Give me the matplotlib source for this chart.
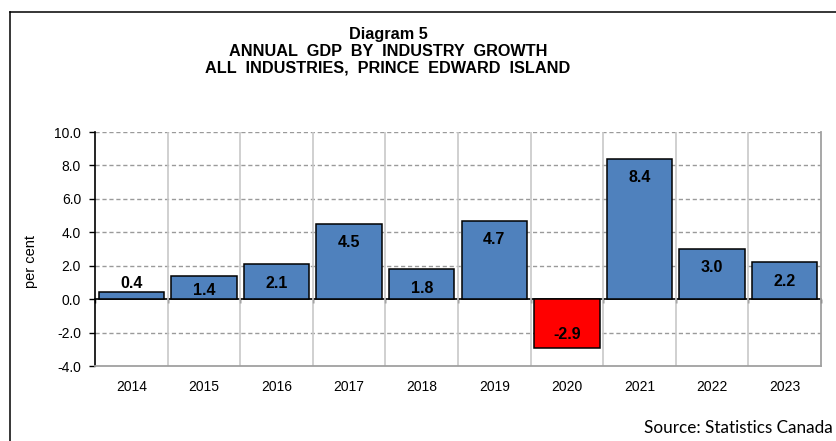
import matplotlib
matplotlib.use("Agg")
import matplotlib.pyplot as plt
from matplotlib.lines import Line2D
import numpy as np

years = ["2014", "2015", "2016", "2017", "2018", "2019", "2020", "2021", "2022", "2023"]
growth = [0.4, 1.4, 2.1, 4.5, 1.8, 4.7, -2.9, 8.4, 3.0, 2.2]
y_ticks = [-4.0, -2.0, 0.0, 2.0, 4.0, 6.0, 8.0, 10.0]
title_lines = ["Diagram 5",
               "ANNUAL  GDP  BY  INDUSTRY  GROWTH",
               "ALL  INDUSTRIES,  PRINCE  EDWARD  ISLAND"]
y_label = "per cent"
source = "Source: Statistics Canada"

W, H = 836, 441
plt.rcParams['font.family'] = ['Liberation Sans', 'DejaVu Sans']
fig = plt.figure(figsize=(W / 100, H / 100), dpi=100)

# axes placement (pixels)
left, right, top, bottom = 95, 821, 132, 366
ax = fig.add_axes([left / W, 1 - bottom / H, (right - left) / W, (bottom - top) / H])

x = np.arange(len(years))
pos_color = "#4F81BD"
neg_color = "#FF0000"
colors = [pos_color if v >= 0 else neg_color for v in growth]
bars = ax.bar(x, growth, width=0.9, color=colors, edgecolor="black", linewidth=1.1, zorder=3)

ax.set_xlim(-0.5, len(years) - 0.5)
ax.set_ylim(y_ticks[0], y_ticks[-1])
ax.set_yticks(y_ticks)
ax.set_yticklabels([f"{t:.1f}" for t in y_ticks], fontsize=10)
ax.set_xticks(x)
ax.set_xticklabels(years, fontsize=10)
ax.tick_params(axis="x", length=0, pad=10)
ax.tick_params(axis="y", length=4, width=1, direction="out", pad=6, color="black")

# gridlines
for t in y_ticks[1:]:
    if t == 0:
        continue
    ax.axhline(t, color="#9A9A9A", lw=1.0, ls=(0, (3, 2)), zorder=1)
for b in np.arange(0.5, len(years) - 0.5, 1.0):
    ax.axvline(b, color="#C8C8C8", lw=1.2, zorder=1)

ax.spines["top"].set_visible(False)
ax.spines["right"].set_color("#A0A0A0")
ax.spines["right"].set_linewidth(1.3)
ax.spines["bottom"].set_color("#A0A0A0")
ax.spines["bottom"].set_linewidth(1.3)
ax.spines["left"].set_color("black")
ax.spines["left"].set_linewidth(1.2)

# zero axis line with ticks at category boundaries
sec = ax.secondary_xaxis(0, transform=ax.transData)
sec.set_xticks(np.arange(-0.5, len(years) + 0.5, 1.0))
sec.set_xticklabels([])
sec.tick_params(length=3, width=1, direction="out", color="black")
sec.spines["bottom"].set_color("black")
sec.spines["bottom"].set_linewidth(1.2)

ax.set_ylabel(y_label, fontsize=10.5)
ax.yaxis.set_label_coords(-(95 - 38) / (right - left), 1 - (262 - top) / (bottom - top))

# bar labels: inside end, or just outside when the bar is too short
px_per_unit = (bottom - top) / (y_ticks[-1] - y_ticks[0])
for xi, v in zip(x, growth):
    hpx = abs(v) * px_per_unit
    if hpx > 20:
        if v >= 0:
            off = -min(19, hpx - 9)
        else:
            off = min(13, hpx - 9)
    else:
        off = 9 if v >= 0 else -9
    ax.annotate(f"{v:.1f}", xy=(xi, v), xytext=(0, off * 0.72), textcoords="offset points",
                ha="center", va="center", fontsize=11.5, fontweight="bold", zorder=5)

# title
cx = 388 / W
for line, base in zip(title_lines, [39.5, 56, 72.7]):
    fig.text(cx, 1 - base / H, line, ha="center", va="baseline", fontsize=11.7,
             fontweight="bold")

# source
fig.text(833 / W, 1 - 433 / H, source, ha="right", va="baseline", fontsize=12.3,
         family=["Lato", "DejaVu Sans"])

# outer frame
fig.add_artist(Line2D([10 / W, 10 / W], [1 - 12 / H, 0], transform=fig.transFigure,
                      color="black", lw=1.1))
fig.add_artist(Line2D([10 / W, 1], [1 - 12 / H, 1 - 12 / H], transform=fig.transFigure,
                      color="black", lw=1.1))

fig.savefig("out.png", dpi=100)
